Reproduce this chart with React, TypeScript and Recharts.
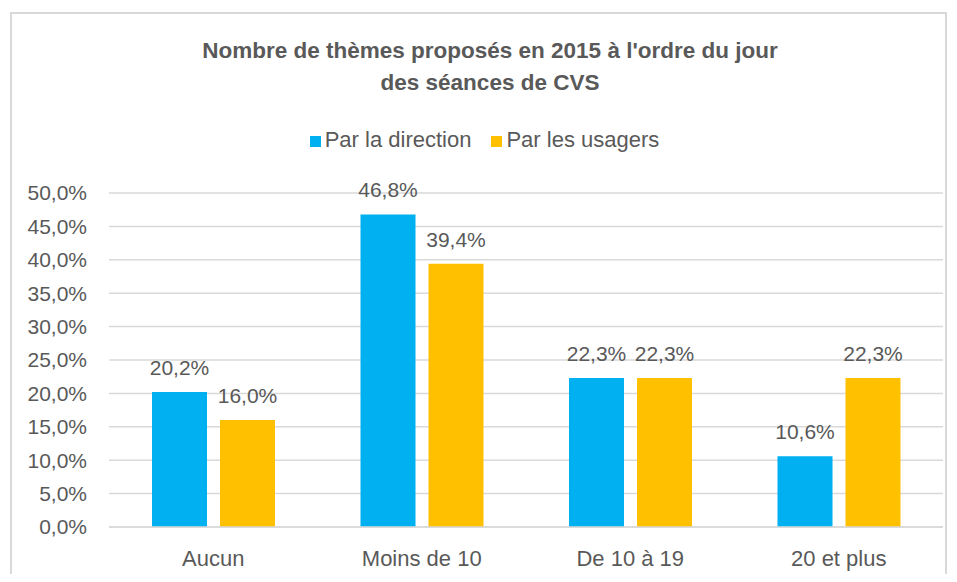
import React from "react";
import {
  BarChart,
  Bar,
  XAxis,
  YAxis,
  CartesianGrid,
  Legend,
  LabelList
} from "recharts";

const categories = ["Aucun", "Moins de 10", "De 10 à 19", "20 et plus"];
const direction = [20.2, 46.8, 22.3, 10.6];
const usagers = [16.0, 39.4, 22.3, 22.3];
const yTicks = [0, 5, 10, 15, 20, 25, 30, 35, 40, 45, 50];

const data = categories.map((name, i) => ({
  name,
  direction: direction[i],
  usagers: usagers[i]
}));

const FONT = "'Liberation Sans', Arial, sans-serif";
const TEXT = "#595959";

const fmt = (v: number) => v.toFixed(1).replace(".", ",") + "%";

function App() {
  return (
    <div
      style={{
        position: "relative",
        width: 957,
        height: 582,
        margin: -8,
        background: "#fff",
        fontFamily: FONT,
        overflow: "hidden"
      }}
    >
      {/* chart frame */}
      <div
        style={{
          position: "absolute",
          left: 10,
          top: 12,
          width: 937,
          height: 600,
          border: "2px solid #d9d9d9",
          boxSizing: "border-box"
        }}
      />
      <div
        style={{
          position: "absolute",
          left: 140,
          width: 700,
          top: 35,
          textAlign: "center",
          color: TEXT,
          fontWeight: "bold",
          fontSize: 22.5,
          lineHeight: "32px"
        }}
      >
        Nombre de thèmes proposés en 2015 à l'ordre du jour
        <br />
        des séances de CVS
      </div>
      <div style={{ position: "absolute", left: 0, top: 0 }}>
        <BarChart
          width={957}
          height={582}
          data={data}
          margin={{ top: 167, right: 14, bottom: 0, left: 0 }}
          barSize={55}
          barGap={13}
        >
          <CartesianGrid vertical={false} stroke="#d9d9d9" strokeWidth={1.5} />
          <XAxis
            dataKey="name"
            height={55}
            axisLine={{ stroke: "#d9d9d9", strokeWidth: 1.5 }}
            tickLine={false}
            tickSize={0}
            tickMargin={23}
            tick={{ fill: TEXT, fontSize: 22, fontFamily: FONT }}
          />
          <YAxis
            width={109}
            domain={[0, 50]}
            ticks={yTicks}
            tickFormatter={fmt}
            axisLine={false}
            tickLine={false}
            tickSize={0}
            tickMargin={22}
            tick={{ fill: TEXT, fontSize: 21, fontFamily: FONT }}
          />
          <Legend
            verticalAlign="top"
            align="center"
            iconType="square"
            iconSize={11}
            wrapperStyle={{
              top: 127,
              left: 16,
              width: 957,
              fontSize: 22,
              fontFamily: FONT
            }}
            formatter={(value: string) => (
              <span style={{ color: TEXT, marginRight: 10 }}>{value}</span>
            )}
          />
          <Bar
            dataKey="direction"
            name="Par la direction"
            fill="#00B0F0"
            isAnimationActive={false}
          >
            <LabelList
              dataKey="direction"
              position="top"
              offset={17}
              formatter={(v: number) => fmt(v)}
              style={{ fill: TEXT, fontSize: 21, fontFamily: FONT }}
            />
          </Bar>
          <Bar
            dataKey="usagers"
            name="Par les usagers"
            fill="#FFC000"
            isAnimationActive={false}
          >
            <LabelList
              dataKey="usagers"
              position="top"
              offset={17}
              formatter={(v: number) => fmt(v)}
              style={{ fill: TEXT, fontSize: 21, fontFamily: FONT }}
            />
          </Bar>
        </BarChart>
      </div>
    </div>
  );
}

export default App;
